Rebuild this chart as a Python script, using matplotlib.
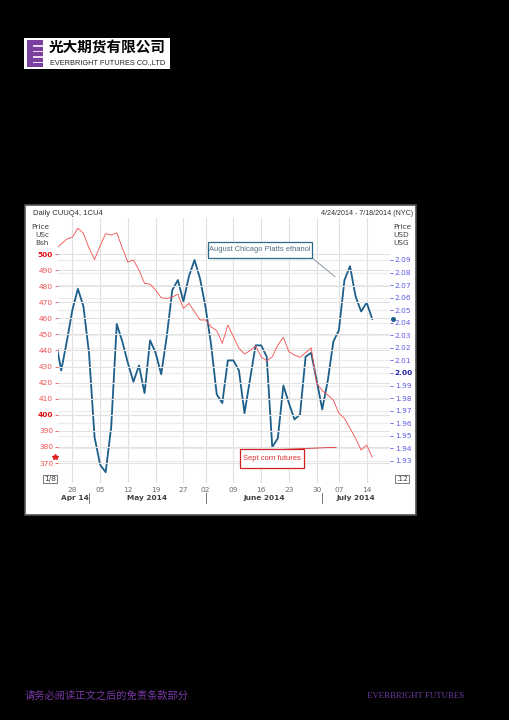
import numpy as np
import pandas as pd
import matplotlib
matplotlib.use('Agg')
import matplotlib.pyplot as plt
from matplotlib.patches import Rectangle
from matplotlib.lines import Line2D

plt.rcParams['font.family'] = ['DejaVu Sans']
HEAD = ['Liberation Sans', 'DejaVu Sans']

# trading days shown on the chart (US holidays skipped)
dates = pd.bdate_range('2014-04-23', '2014-07-15', freq='C',
                       holidays=['2014-05-26', '2014-07-04'])

# August Chicago Platts ethanol, USD/USG (right axis)
ethanol = [2.026, 2.002, 2.025, 2.050, 2.067, 2.053, 2.016, 1.949, 1.927, 1.921,
           1.957, 2.039, 2.025, 2.008, 1.993, 2.006, 1.984, 2.026, 2.016, 1.999,
           2.029, 2.066, 2.074, 2.057, 2.077, 2.090, 2.075, 2.052, 2.022, 1.983,
           1.976, 2.010, 2.010, 2.002, 1.968, 1.995, 2.022, 2.022, 2.013, 1.941,
           1.948, 1.990, 1.976, 1.963, 1.967, 2.013, 2.016, 1.994, 1.971, 1.994,
           2.025, 2.034, 2.074, 2.085, 2.061, 2.049, 2.056, 2.043]

# Sept corn futures, USc/Bsh (left axis)
corn = [503.1, 506.2, 509.3, 510.4, 516.0, 512.9, 503.7, 496.6, 505.0, 512.7,
        511.8, 513.2, 503.7, 495.0, 496.3, 490.0, 481.8, 481.2, 477.6, 472.8,
        472.4, 473.1, 475.1, 466.2, 469.3, 464.1, 459.0, 459.0, 454.6, 452.4,
        444.5, 455.8, 448.6, 441.4, 437.8, 439.9, 442.8, 436.1, 433.6, 436.1,
        443.4, 448.2, 439.2, 437.2, 435.8, 438.6, 441.7, 419.6, 415.0, 412.3,
        409.2, 400.9, 397.8, 391.6, 385.4, 378.1, 381.2, 373.6]

left_ticks = [370, 380, 390, 400, 410, 420, 430, 440, 450, 460, 470, 480, 490, 500]
right_ticks = [1.93, 1.94, 1.95, 1.96, 1.97, 1.98, 1.99, 2.00, 2.01, 2.02,
               2.03, 2.04, 2.05, 2.06, 2.07, 2.08, 2.09]
month_names = ['Apr 14', 'May 2014', 'June 2014', 'July 2014']

W, H = 509, 720
fig = plt.figure(figsize=(W / 100, H / 100), dpi=100, facecolor='black')


def px(x, y):
    # pixel position (from top-left) -> figure fraction
    return x / W, 1 - y / H


def add_rect(x0, y0, x1, y1, z=-5, **kw):
    fig.patches.append(Rectangle(px(x0, y1), (x1 - x0) / W, (y1 - y0) / H,
                                 transform=fig.transFigure, zorder=z, **kw))


# logo
add_rect(24, 38, 170, 69, facecolor='white', edgecolor='none')
add_rect(27, 40, 43, 67, facecolor='#7b3f9e', edgecolor='none')
for yy in [45, 50.5, 56, 61.5]:
    add_rect(33, yy, 43, yy + 1.6, facecolor='#e8d8f0', edgecolor='none')
fig.text(*px(107, 48), '光大期货有限公司', family=['Noto Sans CJK SC', 'DejaVu Sans'],
         fontsize=10.5, fontweight='bold', color='black', ha='center', va='center')
fig.text(*px(107.5, 63), 'EVERBRIGHT FUTURES CO.,LTD', family=HEAD, fontsize=5.3,
         color='#222222', ha='center', va='center')

# white chart panel
add_rect(25, 205, 416, 515, facecolor='white', edgecolor='#505050', linewidth=1.2)

ax = fig.add_axes([58 / W, 1 - 483 / H, 332 / W, 265 / H])
ax2 = ax.twinx()
ax.set_zorder(ax2.get_zorder() + 1)
ax.patch.set_visible(False)
ax2.patch.set_visible(False)

x = np.arange(len(dates))
week_pos = [i for i in range(1, len(dates)) if dates[i].week != dates[i - 1].week]
month_pos = [i for i in range(1, len(dates)) if dates[i].month != dates[i - 1].month]

ax.set_xlim(0.42, 60.2)
ax.set_ylim(357.6, 522.4)
ax2.set_ylim(1.9124, 2.1234)

# grids: horizontal lines for both scales, vertical at week starts
ax.set_yticks(left_ticks)
ax.grid(axis='y', color='#e2e2e2', lw=0.8, zorder=0)
ax2.set_yticks(right_ticks)
ax2.grid(axis='y', color='#ececec', lw=0.8, zorder=0)
for p in week_pos:
    ax2.axvline(p, color='#e0e0e0', lw=0.8, zorder=0)

ax2.plot(x, ethanol, color='#1d5f8a', lw=1.3, zorder=3)
ax.plot(x, corn, color='#f24c4c', lw=0.6, zorder=2)

# last value markers on the axes
ax.plot([-0.008], [corn[-1]], marker='*', color='#e02020', ms=4,
        transform=ax.get_yaxis_transform(), clip_on=False)
ax2.plot([1.01], [ethanol[-1]], marker='o', color='#1d5f8a', ms=2.6,
         transform=ax2.get_yaxis_transform(), clip_on=False)

for s in ax.spines.values():
    s.set_visible(False)
for s in ax2.spines.values():
    s.set_visible(False)

ax.set_yticklabels([str(t) for t in left_ticks])
ax.tick_params(axis='y', length=2.5, width=0.6, pad=1, labelsize=5.3,
               colors='#f05050')
for lab, t in zip(ax.get_yticklabels(), left_ticks):
    if t % 100 == 0:
        lab.set_fontweight('bold')
        lab.set_color('#e01010')

ax2.set_yticklabels(['%.2f' % t for t in right_ticks])
ax2.tick_params(axis='y', length=2.5, width=0.6, pad=1, labelsize=5.3,
                colors='#5a5ae6')
for lab, t in zip(ax2.get_yticklabels(), right_ticks):
    if abs(t - 2.0) < 1e-6:
        lab.set_fontweight('bold')
        lab.set_color('#2020b0')

ax.set_xticks(week_pos)
ax.set_xticklabels([dates[p].strftime('%d') for p in week_pos])
ax.tick_params(axis='x', length=0, pad=3, labelsize=5.3, colors='#707070')
ax2.tick_params(axis='x', length=0)

# month labels and separators
bounds = [3.4] + [(a + b) / 2 for a, b in zip(month_pos, month_pos[1:] + [60.2])]
trans = ax.get_xaxis_transform()
for name, c in zip(month_names, bounds):
    ax.text(c, -0.058, name, transform=trans, ha='center', va='center',
            fontsize=5.3, fontweight='bold', color='#404040')
for p in month_pos:
    ax.add_line(Line2D([p, p], [-0.037, -0.075], transform=trans, color='#606060',
                       lw=0.6, clip_on=False))

# headers
fig.text(*px(33, 213), 'Daily CUUQ4, 1CU4', family=HEAD, fontsize=5.5, color='#303030',
         va='center')
fig.text(*px(413, 213), '4/24/2014 - 7/18/2014 (NYC)', family=HEAD, fontsize=5.1,
         color='#303030', va='center', ha='right')
fig.text(*px(49, 235), 'Price\nUSc\nBsh', fontsize=5.3, color='#404040', va='center',
         ha='right', linespacing=1.45)
fig.text(*px(393, 235), 'Price\nUSD\nUSG', fontsize=5.3, color='#404040', va='center',
         ha='left', linespacing=1.45)
fig.text(*px(50, 479), '1/8', fontsize=5.3, color='#404040', va='center', ha='center',
         bbox=dict(boxstyle='square,pad=0.15', facecolor='white', edgecolor='#606060', lw=0.6))
fig.text(*px(402, 479), '.12', fontsize=5.3, color='#404040', va='center', ha='center',
         bbox=dict(boxstyle='square,pad=0.15', facecolor='white', edgecolor='#606060', lw=0.6))

# annotation boxes
fig.add_artist(Line2D([311 / W, 335 / W], [1 - 257 / H, 1 - 276.7 / H], color='#7a8a96', lw=0.6))
add_rect(208, 241.5, 312, 258, z=5, facecolor='white', edgecolor='#2a6a8a', linewidth=0.9)
fig.text(*px(260, 249.7), 'August Chicago Platts ethanol', family=HEAD, fontsize=5.4,
         color='#4e6e80', ha='center', va='center', zorder=6)
fig.add_artist(Line2D([285 / W, 336 / W], [1 - 449.3 / H, 1 - 447.3 / H], color='#e03030', lw=0.6))
add_rect(240, 449.3, 304, 468.3, z=5, facecolor='white', edgecolor='#d02020', linewidth=0.9)
fig.text(*px(272, 458.8), 'Sept corn futures', family=HEAD, fontsize=5.4, color='#e03030',
         ha='center', va='center', zorder=6)

# footer
fig.text(*px(25, 696), '请务必阅读正文之后的免责条款部分',
         family=['Noto Sans CJK SC', 'DejaVu Sans'], fontsize=7.4, color='#7a3aa8',
         va='center', ha='left')
fig.text(*px(416, 696), 'EVERBRIGHT FUTURES', family='Liberation Serif', fontsize=6.4,
         color='#6a3aa0', va='center', ha='center')

fig.savefig('out.png', dpi=100, facecolor='black')
